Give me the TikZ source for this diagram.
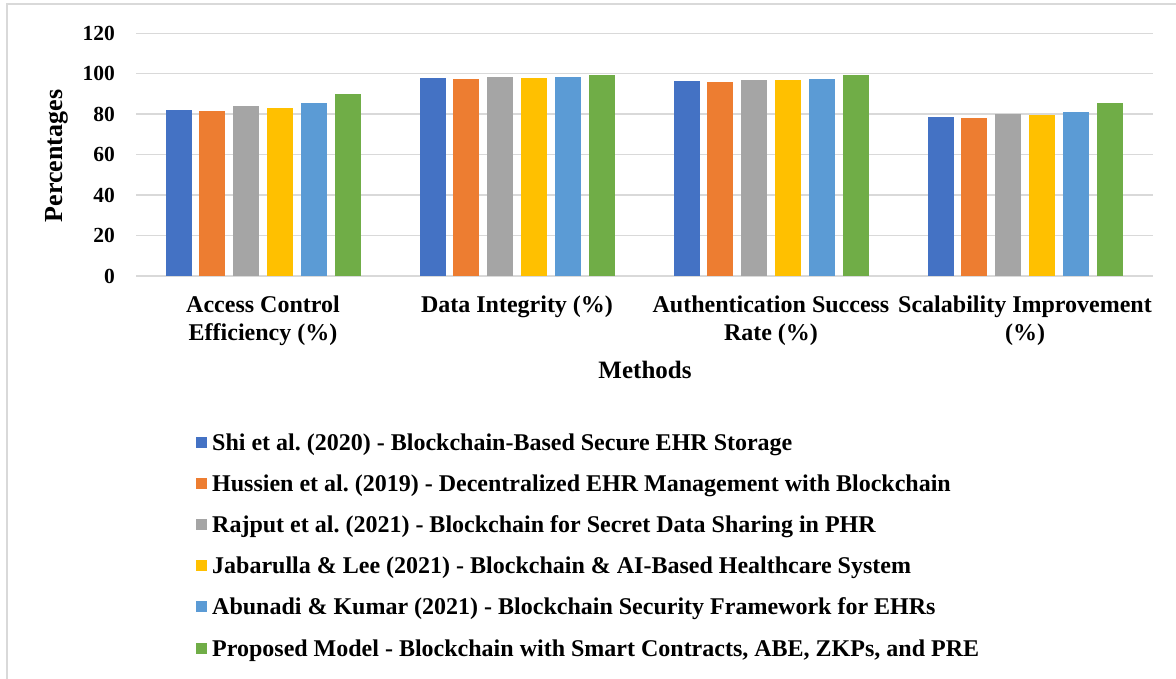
\documentclass[tikz,border=0pt]{standalone}
\usepackage{fontspec}
\setmainfont{Liberation Serif}
\usetikzlibrary{positioning}
\frenchspacing
\definecolor{ser1}{HTML}{4472C4}
\definecolor{ser2}{HTML}{ED7D31}
\definecolor{ser3}{HTML}{A5A5A5}
\definecolor{ser4}{HTML}{FFC000}
\definecolor{ser5}{HTML}{5B9BD5}
\definecolor{ser6}{HTML}{70AD47}
\definecolor{gridgray}{HTML}{D9D9D9}
\begin{document}
\begin{tikzpicture}[x=1pt,y=-1pt,
			gridline/.style = {draw=gridgray, line width=1.5pt},
			ticklabel/.style = {anchor=east, inner sep=0pt, font=\fontsize{21.5}{24}\selectfont\bfseries},
			catlabel/.style = {anchor=north, align=center, inner sep=0pt, font=\fontsize{24}{27.5}\selectfont\bfseries},
			axistitle/.style = {inner sep=0pt, font=\fontsize{25}{28}\selectfont\bfseries},
			legendkey/.style = {minimum size=11pt, inner sep=0pt},
			legendtext/.style = {anchor=base west, inner sep=0pt, font=\fontsize{24}{26}\selectfont\bfseries}
					]
			\def\zeroy{276}
			\def\unity{2.0225}
			\def\groupw{254}
			\def\barpitch{33.8}
			\def\barw{26}
			\useasboundingbox (0,0) rectangle (1176,679);
			% chart frame
			\draw[gridgray, line width=2pt] (7,679) -- (7,4) -- (1176,4);
			% grid and ticks
			\foreach \v in {0,20,...,120} {
				\draw[gridline] (136,\zeroy-\unity*\v) -- (1153,\zeroy-\unity*\v);
				\node[ticklabel] (tick\v) at (115,\zeroy-\unity*\v) {\v};
			}
			% bars
			\foreach \vals [count=\g from 0] in {{82.3,81.5,84.0,83.2,85.6,90.1},{97.7,97.4,98.2,98.0,98.5,99.5},{96.2,95.9,97.0,96.7,97.4,99.2},{78.5,77.9,80.2,79.5,81.2,85.3}} {
				\foreach \v [count=\i] in \vals {
					\pgfmathsetmacro\cx{263+\g*\groupw+(\i-3.5)*\barpitch}
					\fill[ser\i] (\cx-\barw/2,\zeroy) rectangle (\cx+\barw/2,\zeroy-\unity*\v);
				}
			}
			% categories
			\node[catlabel] (cat1) at (263,296) {Access Control\\Efficiency (\%)};
			\node[catlabel] (cat2) at (517,296) {Data Integrity (\%)};
			\node[catlabel] (cat3) at (771,296) {Authentication Success\\Rate (\%)};
			\node[catlabel] (cat4) at (1025,296) {Scalability Improvement\\(\%)};
			\node[axistitle, anchor=base] (xtitle) at (645,378) {Methods};
			\node[axistitle, rotate=90, font=\fontsize{26}{29}\selectfont\bfseries] (ytitle) at (57,156) {Percentages};
			% legend
			\foreach \lbl [count=\i] in {{Shi et al. (2020) - Blockchain-Based Secure EHR Storage},
					{Hussien et al. (2019) - Decentralized EHR Management with Blockchain},
					{Rajput et al. (2021) - Blockchain for Secret Data Sharing in PHR},
					{Jabarulla \& Lee (2021) - Blockchain \& AI-Based Healthcare System},
					{Abunadi \& Kumar (2021) - Blockchain Security Framework for EHRs},
					{Proposed Model - Blockchain with Smart Contracts, ABE, ZKPs, and PRE}} {
				\node[legendkey, fill=ser\i] (key\i) at (201.5,442+41.2*\i-41.2) {};
				\node[legendtext] (leg\i) at (212,450+41.2*\i-41.2) {\lbl};
			}
		\end{tikzpicture}
\end{document}
